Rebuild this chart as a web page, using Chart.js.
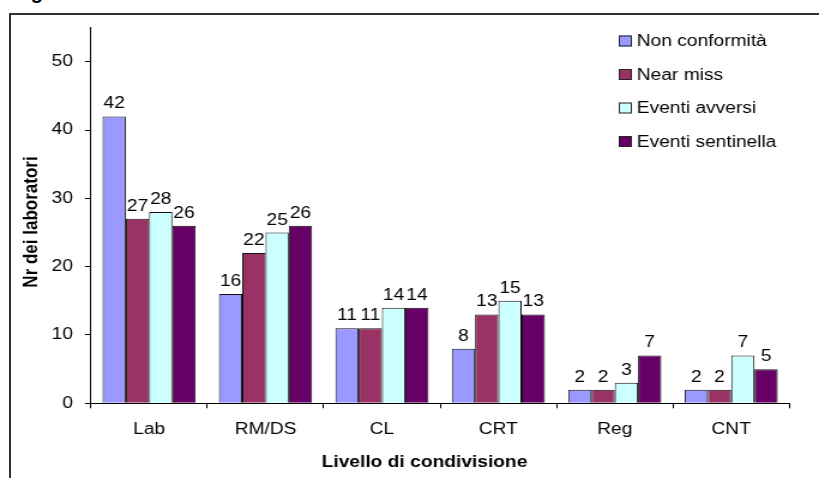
<!DOCTYPE html>
<html>
<head>
<meta charset="utf-8">
<script src="https://cdn.jsdelivr.net/npm/chart.js@4/dist/chart.umd.min.js"></script>
<style>
  body { margin: 0; background: #fff; overflow: hidden; }
  #wrap { position: relative; width: 819px; height: 478px; }
  #frame { position: absolute; left: 9px; top: 13px; width: 900px; height: 600px;
           border-left: 2px solid #333; border-top: 2px solid #333; }
  #caption { position: absolute; left: 13px; top: -18px; font: bold 20px "Liberation Sans", Arial, sans-serif;
             line-height: 20px; color: #000; }
  canvas { position: absolute; left: 0; top: 0; }
</style>
</head>
<body>
<div id="wrap">
  <div id="caption">Figura</div>
  <div id="frame"></div>
  <!-- the original picture is stretched sideways, so the canvas is too -->
  <canvas id="chart" width="683" height="478" style="width:819px;height:478px"></canvas>
</div>
<script>
const categories = ['Lab', 'RM/DS', 'CL', 'CRT', 'Reg', 'CNT'];
const seriesNames = ['Non conformità', 'Near miss', 'Eventi avversi', 'Eventi sentinella'];
const nonConformita = [42, 16, 11, 8, 2, 2];
const nearMiss = [27, 22, 11, 13, 2, 2];
const eventiAvversi = [28, 25, 14, 15, 3, 7];
const eventiSentinella = [26, 26, 14, 13, 7, 5];
const yTicks = [0, 10, 20, 30, 40, 50];
const colors = ['#9999FF', '#993366', '#CCFFFF', '#660066'];

const FONT = '"Liberation Sans", Arial, sans-serif';
Chart.defaults.font.family = FONT;
Chart.defaults.font.size = 16;
Chart.defaults.color = '#000';

// numbers above the bars
const valueLabels = {
  id: 'valueLabels',
  afterDatasetsDraw(chart) {
    const ctx = chart.ctx;
    ctx.save();
    ctx.font = '16px ' + FONT;
    ctx.fillStyle = '#000';
    ctx.textAlign = 'center';
    ctx.textBaseline = 'alphabetic';
    chart.data.datasets.forEach((ds, i) => {
      chart.getDatasetMeta(i).data.forEach((bar, j) => {
        ctx.fillText(String(ds.data[j]), bar.x, bar.y - 8);
      });
    });
    ctx.restore();
  }
};

// legend box top right + axis titles
const extras = {
  id: 'extras',
  afterDraw(chart) {
    const ctx = chart.ctx;
    ctx.save();
    ctx.font = '16px ' + FONT;
    ctx.textAlign = 'left';
    ctx.textBaseline = 'middle';
    chart.data.datasets.forEach((ds, i) => {
      const y = 41 + i * 33.5;
      ctx.fillStyle = ds.backgroundColor;
      ctx.fillRect(516, y - 5.5, 11, 11);
      ctx.strokeStyle = '#222';
      ctx.lineWidth = 1;
      ctx.strokeRect(516.5, y - 5, 10, 10);
      ctx.fillStyle = '#000';
      ctx.fillText(ds.label, 531, y + 1);
    });

    ctx.font = 'bold 16px ' + FONT;
    ctx.textAlign = 'center';
    ctx.textBaseline = 'alphabetic';
    ctx.fillText('Livello di condivisione', 354, 467);

    ctx.translate(26.5, 222);
    ctx.rotate(-Math.PI / 2);
    ctx.font = 'bold 17px ' + FONT;
    ctx.textBaseline = 'middle';
    ctx.fillText('Nr dei laboratori', 0, 0);
    ctx.restore();
  }
};

new Chart(document.getElementById('chart'), {
  type: 'bar',
  data: {
    labels: categories,
    datasets: [nonConformita, nearMiss, eventiAvversi, eventiSentinella].map((d, i) => ({
      label: seriesNames[i],
      data: d,
      backgroundColor: colors[i],
      borderColor: '#111',
      borderWidth: 1,
      categoryPercentage: 0.8,
      barPercentage: 1.0
    }))
  },
  options: {
    responsive: false,
    animation: false,
    devicePixelRatio: 1,
    layout: { padding: { left: 0, top: 27.6, right: 24.7, bottom: 0 } },
    plugins: {
      legend: { display: false },
      tooltip: { enabled: false }
    },
    scales: {
      x: {
        grid: { drawOnChartArea: false, drawTicks: true, tickLength: 5, color: '#000' },
        border: { color: '#000', width: 1 },
        ticks: { padding: 12, maxRotation: 0, font: { size: 16 } },
        afterFit(scale) { scale.height = 74.7; }
      },
      y: {
        min: 0,
        max: 55,
        grid: { drawOnChartArea: false, drawTicks: true, tickLength: 5, color: '#000' },
        border: { color: '#000', width: 1 },
        ticks: { padding: 10, font: { size: 16 } },
        afterBuildTicks(scale) { scale.ticks = yTicks.map(v => ({ value: v })); },
        afterFit(scale) { scale.width = 75.8; }
      }
    }
  },
  plugins: [valueLabels, extras]
});
</script>
</body>
</html>
